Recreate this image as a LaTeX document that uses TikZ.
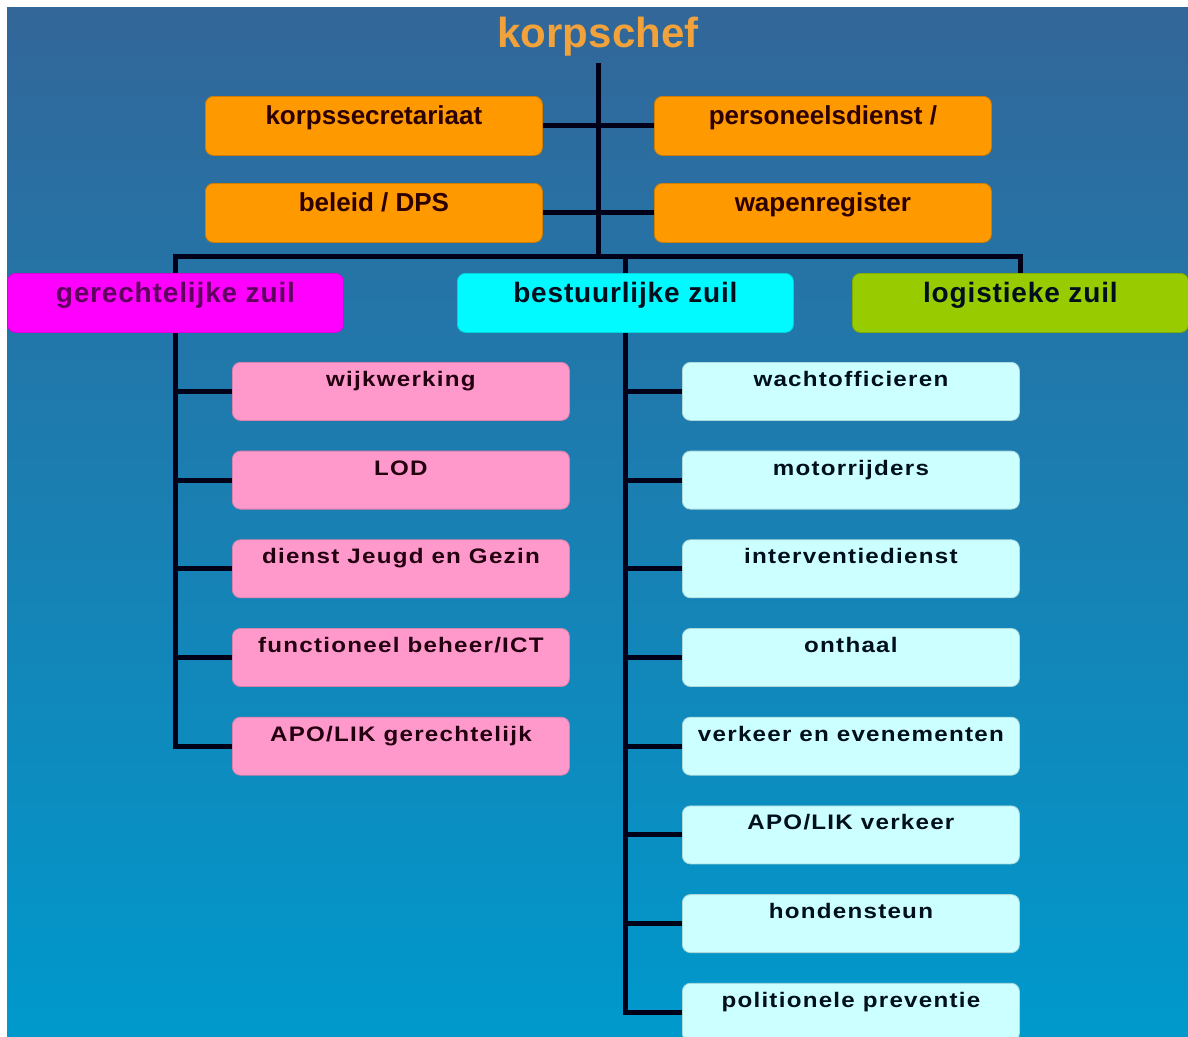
\documentclass[tikz,border=0pt]{standalone}
\usepackage{fontspec}
\setmainfont{Liberation Sans}
\newfontfamily\widefam{Liberation Sans}[LetterSpace=6,FakeStretch=1.15]
\newfontfamily\semiwidefam{Liberation Sans}[LetterSpace=3]
\usetikzlibrary{backgrounds}
\definecolor{bgtop}{RGB}{51,102,153}
\definecolor{bgbot}{RGB}{0,153,204}
\definecolor{orangebox}{RGB}{255,153,0}
\definecolor{titleorange}{RGB}{242,162,58}
\definecolor{magbox}{RGB}{255,0,255}
\definecolor{cyanbox}{RGB}{0,250,255}
\definecolor{greenbox}{RGB}{153,204,0}
\definecolor{pinkbox}{RGB}{255,153,204}
\definecolor{lcyanbox}{RGB}{204,255,255}
\definecolor{linecol}{RGB}{0,0,25}
\definecolor{txtmaroon}{RGB}{45,0,0}
\definecolor{txtpurple}{RGB}{95,0,95}
\definecolor{txtdark}{RGB}{0,15,30}
\definecolor{txtpinkdark}{RGB}{35,0,15}
\tikzset{
  x=1pt, y=-1pt,
  boxbase/.style={anchor=north west, rounded corners=8pt, inner sep=0pt,
    minimum width=337pt, line width=0.8pt},
  topbox/.style={boxbase, fill=orangebox, draw=orangebox!82!black,
    text height=28pt, text depth=31pt,
    font=\fontsize{26}{30}\selectfont\bfseries, text=txtmaroon},
  zuil/.style={boxbase, minimum width=336pt, draw=#1!85!black, fill=#1,
    text height=29pt, text depth=30pt,
    font=\semiwidefam\fontsize{28}{32}\selectfont\bfseries},
  pinksub/.style={boxbase, fill=pinkbox, draw=pinkbox!85!black,
    text height=24pt, text depth=34pt, text=txtpinkdark,
    font=\widefam\fontsize{21}{24}\selectfont\bfseries},
  cyansub/.style={boxbase, fill=lcyanbox, draw=lcyanbox!85!black,
    text height=24pt, text depth=34pt, text=txtdark,
    font=\widefam\fontsize{21}{24}\selectfont\bfseries},
  titlestyle/.style={anchor=base, inner sep=0pt, text depth=18pt,
    font=\fontsize{42}{48}\selectfont\bfseries, text=titleorange},
  conn/.style={draw=linecol, line width=5pt, line cap=rect, line join=miter}
}
\begin{document}
\begin{tikzpicture}
\useasboundingbox (0,0) rectangle (1188,1036);
\begin{scope}[on background layer]
  \fill[white] (0,0) rectangle (1188,1036);
  \fill[top color=bgtop, bottom color=bgbot] (7,7) rectangle (1188,1036);
\end{scope}
\clip (0,0) rectangle (1188,1036);

% title
\node[titlestyle] (chef) at (598,47) {korpschef};

% staff boxes
\node[topbox] (ks) at (205,96) {korpssecretariaat};
\node[topbox] (pd) at (654,96) {personeelsdienst /};
\node[topbox] (bd) at (205,183) {beleid / DPS};
\node[topbox] (wr) at (654,183) {wapenregister};

% pillars
\node[zuil=magbox, text=txtpurple] (gz) at (7,273) {gerechtelijke zuil};
\node[zuil=cyanbox, text=txtdark] (bz) at (457,273) {bestuurlijke zuil};
\node[zuil=greenbox, text=txtdark] (lz) at (852,273) {logistieke zuil};

% gerechtelijke zuil sub boxes
\node[pinksub] (g1) at (232,362.0) {wijkwerking};
\node[pinksub] (g2) at (232,450.7) {LOD};
\node[pinksub] (g3) at (232,539.4) {dienst Jeugd en Gezin};
\node[pinksub] (g4) at (232,628.1) {functioneel beheer/ICT};
\node[pinksub] (g5) at (232,716.8) {APO/LIK gerechtelijk};

% bestuurlijke zuil sub boxes
\node[cyansub] (b1) at (682,362.0) {wachtofficieren};
\node[cyansub] (b2) at (682,450.7) {motorrijders};
\node[cyansub] (b3) at (682,539.4) {interventiedienst};
\node[cyansub] (b4) at (682,628.1) {onthaal};
\node[cyansub] (b5) at (682,716.8) {verkeer en evenementen};
\node[cyansub] (b6) at (682,805.5) {APO/LIK verkeer};
\node[cyansub] (b7) at (682,894.2) {hondensteun};
\node[cyansub] (b8) at (682,982.9) {politionele preventie};

\coordinate (hub) at (598,256);

\begin{scope}[on background layer]
  \draw[conn] (chef.south) -- (hub);
  \draw[conn] (ks.east) -- (pd.west);
  \draw[conn] (bd.east) -- (wr.west);
  \draw[conn] (gz.north |- hub) -- (lz.north |- hub) -- (lz.north);
  \draw[conn] (bz.north |- hub) -- (bz.north);
  \foreach \n in {g1,g2,g3,g4,g5}
    \draw[conn] (gz.north |- hub) |- (\n.west);
  \foreach \n in {b1,b2,b3,b4,b5,b6,b7,b8}
    \draw[conn] (bz.north |- hub) |- (\n.west);
\end{scope}
\end{tikzpicture}
\end{document}
